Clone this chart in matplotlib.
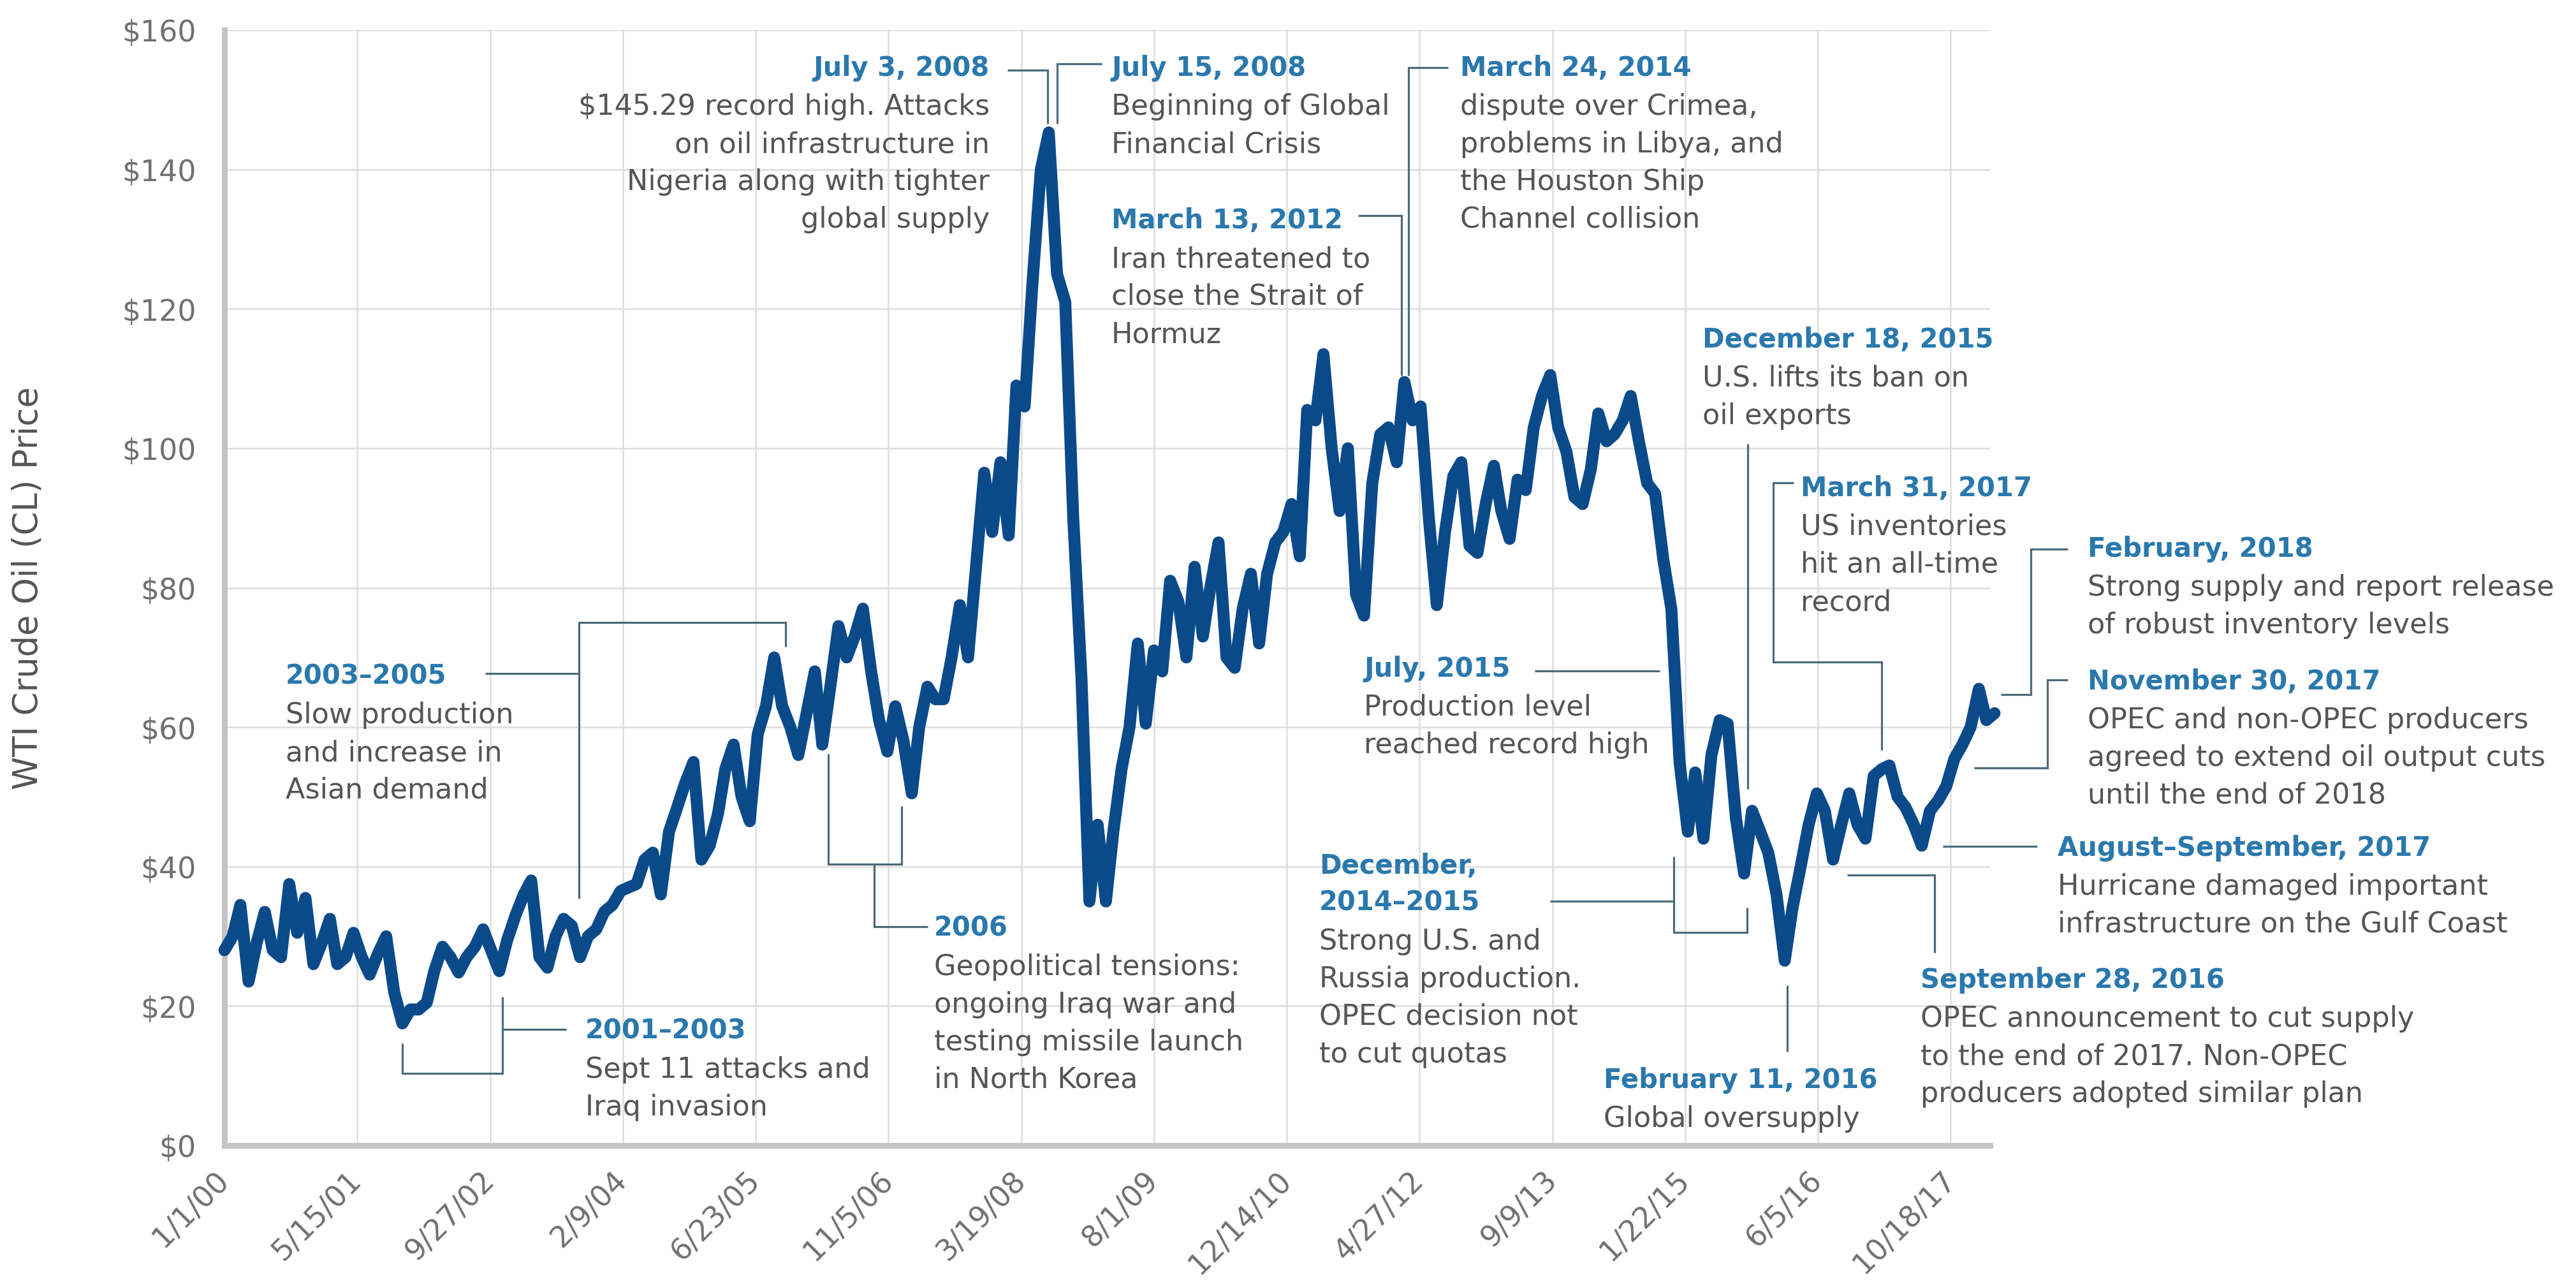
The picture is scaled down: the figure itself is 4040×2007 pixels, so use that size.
import matplotlib
matplotlib.use("Agg")
import matplotlib.pyplot as plt
from matplotlib.lines import Line2D
import pandas as pd

# monthly WTI price (first of each month)
price_2000 = [28, 30, 34.5, 23.5, 29, 33.5, 28, 27, 37.5, 30.5, 35.5, 26]
price_2001 = [29, 32.5, 26, 27, 30.5, 27, 24.5, 27.5, 30, 22, 17.5, 19.5]
price_2002 = [19.5, 20.5, 25, 28.5, 27, 24.8, 27, 28.5, 31, 28, 25, 29.5]
price_2003 = [33, 36, 38, 27, 25.5, 30, 32.5, 31.5, 27, 30, 31, 33.5]
price_2004 = [34.5, 36.5, 37, 37.5, 41, 42, 36, 45, 48.5, 52, 55, 41]
price_2005 = [43, 47.5, 54, 57.5, 50, 46.5, 59, 63, 70, 63, 60, 56]
price_2006 = [62, 68, 57.5, 66, 74.5, 70, 73, 77, 68, 61, 56.5, 63]
price_2007 = [58, 50.5, 60, 65.8, 64, 64, 70, 77.5, 70, 83, 96.5, 88]
price_2008 = [98, 87.5, 109, 106, 124, 140, 145.3, 125, 121, 90, 67, 35]
price_2009 = [46, 35, 45, 54, 60, 72, 60.5, 71, 68, 81, 78, 70]
price_2010 = [83, 73, 80, 86.5, 70, 68.5, 77, 82, 72, 82, 86.5, 88]
price_2011 = [92, 84.5, 105.5, 104, 113.5, 100, 91, 100, 79, 76, 95, 102]
price_2012 = [103, 98, 109.5, 104, 106, 90, 77.5, 88, 96, 98, 86, 85]
price_2013 = [92, 97.5, 91, 87, 95.5, 94, 103, 107.5, 110.5, 103, 99.5, 93]
price_2014 = [92, 97, 105, 101, 102, 104, 107.5, 101, 95, 93.5, 84, 77]
price_2015 = [55, 45, 53.5, 44, 56, 61, 60.5, 47, 39, 48, 45, 42]
price_2016 = [36, 26.5, 34, 40, 46, 50.5, 48, 41, 46, 50.5, 46, 44]
price_2017 = [53, 54, 54.5, 50, 48.5, 46, 43, 48, 49.5, 51.5, 55.5, 57.5]
price_2018 = [60, 65.5, 61, 62]

wti_price = (price_2000 + price_2001 + price_2002 + price_2003 + price_2004
             + price_2005 + price_2006 + price_2007 + price_2008 + price_2009
             + price_2010 + price_2011 + price_2012 + price_2013 + price_2014
             + price_2015 + price_2016 + price_2017 + price_2018)
months = pd.date_range("2000-01-01", periods=len(wti_price), freq="MS")

tick_dates = pd.to_datetime(["2000-01-01", "2001-05-15", "2002-09-27", "2004-02-09",
                             "2005-06-23", "2006-11-05", "2008-03-19", "2009-08-01",
                             "2010-12-14", "2012-04-27", "2013-09-09", "2015-01-22",
                             "2016-06-05", "2017-10-18"])
tick_labels = [f"{d.month}/{d.day}/{d:%y}" for d in tick_dates]
y_ticks = [0, 20, 40, 60, 80, 100, 120, 140, 160]
y_labels = ["\\$" + str(v) for v in y_ticks]

# (x, y of title centre, title lines, body lines, alignment) in reference pixels
notes = [
    (448, 1059, ["2003\u20132005"], ["Slow production", "and increase in", "Asian demand"], "left"),
    (918, 1615, ["2001\u20132003"], ["Sept 11 attacks and", "Iraq invasion"], "left"),
    (1465, 1454, ["2006"], ["Geopolitical tensions:", "ongoing Iraq war and",
                            "testing missile launch", "in North Korea"], "left"),
    (1552, 105, ["July 3, 2008"], ["\\$145.29 record high. Attacks", "on oil infrastructure in",
                                   "Nigeria along with tighter", "global supply"], "right"),
    (1743, 105, ["July 15, 2008"], ["Beginning of Global", "Financial Crisis"], "left"),
    (1743, 344, ["March 13, 2012"], ["Iran threatened to", "close the Strait of", "Hormuz"], "left"),
    (2290, 105, ["March 24, 2014"], ["dispute over Crimea,", "problems in Libya, and",
                                     "the Houston Ship", "Channel collision"], "left"),
    (2670, 531, ["December 18, 2015"], ["U.S. lifts its ban on", "oil exports"], "left"),
    (2824, 764, ["March 31, 2017"], ["US inventories", "hit an all-time", "record"], "left"),
    (3274, 859, ["February, 2018"], ["Strong supply and report release",
                                     "of robust inventory levels"], "left"),
    (3274, 1067, ["November 30, 2017"], ["OPEC and non-OPEC producers",
                                         "agreed to extend oil output cuts",
                                         "until the end of 2018"], "left"),
    (2139, 1047, ["July, 2015"], ["Production level", "reached record high"], "left"),
    (3227, 1328, ["August\u2013September, 2017"], ["Hurricane damaged important",
                                                   "infrastructure on the Gulf Coast"], "left"),
    (2069, 1356, ["December,", "2014\u20132015"], ["Strong U.S. and", "Russia production.",
                                                  "OPEC decision not", "to cut quotas"], "left"),
    (3012, 1535, ["September 28, 2016"], ["OPEC announcement to cut supply",
                                          "to the end of 2017. Non-OPEC",
                                          "producers adopted similar plan"], "left"),
    (2515, 1692, ["February 11, 2016"], ["Global oversupply"], "left"),
]

wires = [
    [(761, 1057), (908, 1057)],
    [(908, 1410), (908, 977), (1232, 977), (1232, 1015)],
    [(888, 1615), (788, 1615)],
    [(788, 1564), (788, 1684), (631, 1684), (631, 1637)],
    [(1455, 1454), (1371, 1454), (1371, 1356)],
    [(1299, 1183), (1299, 1356), (1414, 1356), (1414, 1265)],
    [(1580, 111), (1643, 111), (1643, 195)],
    [(1658, 195), (1658, 101), (1728, 101)],
    [(2130, 339), (2198, 339), (2198, 590)],
    [(2271, 107), (2209, 107), (2209, 590)],
    [(2407, 1053), (2603, 1053)],
    [(2741, 697), (2741, 1238)],
    [(2431, 1414), (2625, 1414)],
    [(2625, 1344), (2625, 1463), (2740, 1463), (2740, 1424)],
    [(2803, 1546), (2803, 1650)],
    [(2897, 1373), (3034, 1373), (3034, 1495)],
    [(3047, 1328), (3195, 1328)],
    [(3096, 1205), (3211, 1205), (3211, 1067), (3243, 1067)],
    [(3138, 1090), (3185, 1090), (3185, 862), (3243, 862)],
    [(2813, 758), (2781, 758), (2781, 1039), (2951, 1039), (2951, 1177)],
]

W, H = 4041, 2008
BLUE = "#2a78ad"
GREY = "#555555"
WIRE = "#4c6a7a"


def fx(x):
    return x / W


def fy(y):
    return 1 - y / H


fig = plt.figure(figsize=(W / 100, H / 100), dpi=100)
ax = fig.add_axes([352 / W, 1 - 1797 / H, (3121 - 352) / W, (1797 - 48) / H])

ax.plot(months, wti_price, color="#0b4a8a", lw=13.5, solid_joinstyle="round",
        solid_capstyle="round", clip_on=False, zorder=3)

ax.set_xlim(pd.Timestamp("2000-01-01"), pd.Timestamp("2018-03-15"))
ax.set_ylim(0, 160)
ax.set_xticks(tick_dates)
ax.set_xticklabels(tick_labels, rotation=45, ha="right", va="center",
                   rotation_mode="anchor")
ax.set_yticks(y_ticks)
ax.set_yticklabels(y_labels)
ax.tick_params(length=0, labelsize=33, labelcolor="#707070")
ax.tick_params(axis="x", pad=34)
ax.tick_params(axis="y", pad=32)
ax.grid(color="#dddddd", lw=1.8)
ax.set_axisbelow(True)
for side in ["top", "right"]:
    ax.spines[side].set_visible(False)
for side in ["left", "bottom"]:
    ax.spines[side].set_color("#c4c4c4")
    ax.spines[side].set_linewidth(6.5)

ax.set_ylabel("WTI Crude Oil (CL) Price", fontsize=38, color=GREY)
ax.yaxis.set_label_coords(-0.102, 0.5)

for x, y, title, body, ha in notes:
    for i, line in enumerate(title):
        fig.text(fx(x), fy(y + i * 58 + 14), line, ha=ha, va="baseline",
                 fontsize=30, fontweight="bold", color=BLUE)
    y0 = y + (len(title) - 1) * 58 + 61
    for i, line in enumerate(body):
        fig.text(fx(x), fy(y0 + i * 59 + 14), line, ha=ha, va="baseline",
                 fontsize=32, color=GREY)

for pts in wires:
    fig.add_artist(Line2D([fx(p[0]) for p in pts], [fy(p[1]) for p in pts],
                          transform=fig.transFigure, color=WIRE, lw=2.3,
                          solid_joinstyle="miter", solid_capstyle="butt"))

fig.savefig("out.png", dpi=100, facecolor="white")
